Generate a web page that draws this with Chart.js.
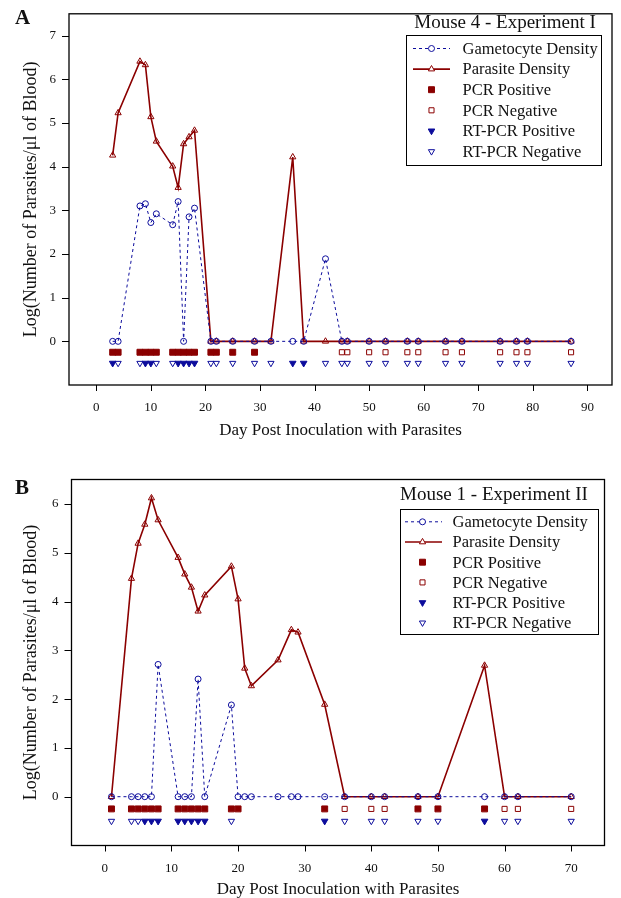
<!DOCTYPE html>
<html>
<head>
<meta charset="utf-8">
<script src="https://cdn.jsdelivr.net/npm/chart.js@4.4.0/dist/chart.umd.min.js"></script>
<style>
  html, body { margin: 0; padding: 0; background: #fff; }
  body { width: 621px; height: 898px; position: relative; overflow: hidden; }
  .panel { position: absolute; left: 0; width: 621px; height: 449px; }
  .tag { position: absolute; left: 15px; font: bold 21px 'Liberation Serif', serif; line-height: 21px; color: #111; }
</style>
</head>
<body>
<div class="panel" style="top:0"><canvas id="chartA" width="621" height="449"></canvas></div>
<div class="panel" style="top:449px"><canvas id="chartB" width="621" height="449"></canvas></div>
<div class="tag" style="top:7px">A</div>
<div class="tag" style="top:477px">B</div>
<script>
const FONT = "'Liberation Serif', 'Times New Roman', serif";
const RED = '#8b0000';
const BLUE = '#0c0c9c';

// rows where the PCR / RT-PCR results are plotted (log units)
const PCR_LEVEL = -0.25;
const RT_LEVEL = -0.5;

// Panel A - Mouse 4, Experiment I
const daysA = [3, 4, 8, 9, 10, 11, 14, 15, 16, 17, 18, 21, 22, 25, 29, 32, 36, 38, 42, 45, 46, 50, 53, 57, 59, 64, 67, 74, 77, 79, 87];
const gametoA = [0, 0, 3.10, 3.15, 2.72, 2.92, 2.67, 3.20, 0, 2.85, 3.05, 0, 0, 0, 0, 0, 0, 0, 1.89, 0, 0, 0, 0, 0, 0, 0, 0, 0, 0, 0, 0];
const parasiteA = [4.26, 5.23, 6.41, 6.33, 5.14, 4.58, 4.01, 3.52, 4.52, 4.68, 4.83, 0, 0, 0, 0, 0, 4.22, 0, 0, 0, 0, 0, 0, 0, 0, 0, 0, 0, 0, 0, 0];
const pcrPosA = [3, 4, 8, 9, 10, 11, 14, 15, 16, 17, 18, 21, 22, 25, 29];
const pcrNegA = [45, 46, 50, 53, 57, 59, 64, 67, 74, 77, 79, 87];
const rtPosA = [3, 9, 10, 15, 16, 17, 18, 36, 38];
const rtNegA = [4, 8, 11, 14, 21, 22, 25, 29, 32, 42, 45, 46, 50, 53, 57, 59, 64, 67, 74, 77, 79, 87];

// Panel B - Mouse 1, Experiment II
const daysB = [1, 4, 5, 6, 7, 8, 11, 12, 13, 14, 15, 19, 20, 21, 22, 26, 28, 29, 33, 36, 40, 42, 47, 50, 57, 60, 62, 70];
const gametoB = [0, 0, 0, 0, 0, 2.71, 0, 0, 0, 2.41, 0, 1.88, 0, 0, 0, 0, 0, 0, 0, 0, 0, 0, 0, 0, 0, 0, 0, 0];
const parasiteB = [0, 4.47, 5.19, 5.58, 6.12, 5.67, 4.90, 4.56, 4.29, 3.80, 4.13, 4.72, 4.05, 2.63, 2.27, 2.80, 3.42, 3.37, 1.89, 0, 0, 0, 0, 0, 2.69, 0, 0, 0];
const pcrPosB = [1, 4, 5, 6, 7, 8, 11, 12, 13, 14, 15, 19, 20, 33, 47, 50, 57];
const pcrNegB = [36, 40, 42, 60, 62, 70];
const rtPosB = [6, 7, 8, 11, 12, 13, 14, 15, 33, 57];
const rtNegB = [1, 4, 5, 19, 36, 40, 42, 47, 50, 60, 62, 70];

const xTicks = [0, 10, 20, 30, 40, 50, 60, 70, 80, 90];

const pts = (xs, ys) => xs.map((x, i) => ({ x: x, y: ys[i] }));
const row = (xs, level) => xs.map(x => ({ x: x, y: level }));

function buildDatasets(days, gameto, parasite, pcrPos, pcrNeg, rtPos, rtNeg) {
  return [
    { label: 'Gametocyte Density', data: pts(days, gameto), showLine: true,
      borderColor: BLUE, borderWidth: 1, borderDash: [3, 3],
      pointStyle: 'circle', pointRadius: 3, pointBorderWidth: 1,
      pointBorderColor: BLUE, pointBackgroundColor: 'rgba(0,0,0,0)' },
    { label: 'Parasite Density', data: pts(days, parasite), showLine: true,
      borderColor: RED, borderWidth: 1.6,
      pointStyle: 'triangle', pointRadius: 3.6, pointBorderWidth: 1,
      pointBorderColor: RED, pointBackgroundColor: 'rgba(0,0,0,0)' },
    { label: 'PCR Positive', data: row(pcrPos, PCR_LEVEL), showLine: false,
      pointStyle: 'rect', pointRadius: 4.2, pointBorderWidth: 1,
      pointBorderColor: RED, pointBackgroundColor: RED },
    { label: 'PCR Negative', data: row(pcrNeg, PCR_LEVEL), showLine: false,
      pointStyle: 'rect', pointRadius: 3.6, pointBorderWidth: 1,
      pointBorderColor: RED, pointBackgroundColor: 'rgba(0,0,0,0)' },
    { label: 'RT-PCR Positive', data: row(rtPos, RT_LEVEL), showLine: false,
      pointStyle: 'triangle', pointRotation: 180, pointRadius: 3.8, pointBorderWidth: 1,
      pointBorderColor: BLUE, pointBackgroundColor: BLUE },
    { label: 'RT-PCR Negative', data: row(rtNeg, RT_LEVEL), showLine: false,
      pointStyle: 'triangle', pointRotation: 180, pointRadius: 3.6, pointBorderWidth: 1,
      pointBorderColor: BLUE, pointBackgroundColor: 'rgba(0,0,0,0)' }
  ];
}

// frame round the plot area plus outward major/minor tick marks
const framePlugin = {
  id: 'frame',
  afterDatasetsDraw(chart) {
    const { ctx, chartArea: a, scales } = chart;
    ctx.save();
    ctx.strokeStyle = '#000';
    ctx.lineWidth = 1.3;
    ctx.strokeRect(a.left, a.top, a.right - a.left, a.bottom - a.top);
    ctx.lineWidth = 1;
    ctx.beginPath();
    scales.x.ticks.forEach(t => {
      if (t.value < 0) return;
      const px = Math.round(scales.x.getPixelForValue(t.value)) + 0.5;
      const len = t.value % 10 === 0 ? 6 : 3.5;
      ctx.moveTo(px, a.bottom);
      ctx.lineTo(px, a.bottom + len);
    });
    scales.y.ticks.forEach(t => {
      if (t.value < 0) return;
      const py = Math.round(scales.y.getPixelForValue(t.value)) + 0.5;
      const len = Number.isInteger(t.value) ? 7 : 4;
      ctx.moveTo(a.left - len, py);
      ctx.lineTo(a.left, py);
    });
    ctx.stroke();
    ctx.restore();
  }
};

// legend with a title above a framed list of series
const boxLegend = {
  id: 'boxLegend',
  afterDraw(chart, args, o) {
    const ctx = chart.ctx;
    ctx.save();
    ctx.fillStyle = '#111';
    ctx.textBaseline = 'middle';
    ctx.textAlign = 'center';
    ctx.font = o.titleSize + 'px ' + FONT;
    ctx.fillText(o.title, o.titleX, o.titleY);
    ctx.strokeStyle = '#000';
    ctx.lineWidth = 1;
    ctx.strokeRect(o.box[0] + 0.5, o.box[1] + 0.5, o.box[2], o.box[3]);
    ctx.textAlign = 'left';
    ctx.font = o.size + 'px ' + FONT;
    chart.data.datasets.forEach((ds, i) => {
      const y = o.rowY + i * o.rowGap;
      if (ds.showLine) {
        ctx.save();
        ctx.strokeStyle = ds.borderColor;
        ctx.lineWidth = ds.borderWidth;
        ctx.setLineDash(ds.borderDash || []);
        ctx.beginPath();
        ctx.moveTo(o.lineX[0], y);
        ctx.lineTo(o.lineX[1], y);
        ctx.stroke();
        ctx.restore();
      }
      ctx.save();
      ctx.fillStyle = ds.showLine ? '#fff' : ds.pointBackgroundColor;
      ctx.strokeStyle = ds.pointBorderColor;
      ctx.lineWidth = ds.pointBorderWidth;
      Chart.helpers.drawPoint(ctx, {
        pointStyle: ds.pointStyle, rotation: ds.pointRotation || 0,
        radius: ds.pointRadius, borderWidth: ds.pointBorderWidth
      }, o.symX, y);
      ctx.restore();
      ctx.fillStyle = '#111';
      ctx.fillText(ds.label, o.textX, y + 1);
    });
    ctx.restore();
  }
};

function makeChart(id, datasets, cfg) {
  return new Chart(document.getElementById(id), {
    type: 'scatter',
    data: { datasets: datasets },
    options: {
      responsive: false,
      animation: false,
      layout: { padding: { left: 0, top: cfg.top, right: cfg.right, bottom: 0 } },
      elements: { line: { tension: 0 } },
      plugins: {
        legend: { display: false },
        tooltip: { enabled: false },
        boxLegend: cfg.legend
      },
      scales: {
        x: {
          type: 'linear', min: -5, max: cfg.xMax,
          afterFit: s => { s.height = cfg.xHeight; },
          ticks: {
            stepSize: 5, includeBounds: false, autoSkip: false, maxRotation: 0,
            padding: 9, color: '#111', font: { family: FONT, size: 13 },
            callback: v => (xTicks.includes(v) ? String(v) : null)
          },
          grid: { drawOnChartArea: false, drawTicks: true, tickLength: 6, tickColor: 'rgba(0,0,0,0)' },
          border: { display: false },
          title: {
            display: true, text: 'Day Post Inoculation with Parasites', color: '#111',
            font: { family: FONT, size: 17, lineHeight: 1 },
            padding: { top: 0, bottom: cfg.xTitlePad }
          }
        },
        y: {
          type: 'linear', min: -1, max: cfg.yMax,
          afterFit: s => { s.width = cfg.yWidth; },
          ticks: {
            stepSize: 0.5, includeBounds: false, padding: 6, color: '#111',
            font: { family: FONT, size: 13 },
            callback: v => (v >= 0 && Number.isInteger(v) ? String(v) : null)
          },
          grid: { drawOnChartArea: false, drawTicks: true, tickLength: 7, tickColor: 'rgba(0,0,0,0)' },
          border: { display: false },
          title: {
            display: true, text: 'Log(Number of Parasites/\u03bcl of Blood)', color: '#111',
            font: { family: FONT, size: 18, lineHeight: 1 },
            padding: { top: cfg.yTitlePad, bottom: 0 }
          }
        }
      }
    },
    plugins: [framePlugin, boxLegend]
  });
}

makeChart('chartA', buildDatasets(daysA, gametoA, parasiteA, pcrPosA, pcrNegA, rtPosA, rtNegA), {
  top: 9, right: 9, xMax: 94.5, yMax: 7.5, yWidth: 69, xHeight: 64,
  xTitlePad: 10, yTitlePad: 22,
  legend: {
    title: 'Mouse 4 - Experiment I', titleSize: 19, titleX: 505, titleY: 23,
    box: [406, 35, 195, 130], size: 16.5, rowY: 48.5, rowGap: 20.6,
    symX: 431.5, lineX: [413, 450], textX: 462.5
  }
});

makeChart('chartB', buildDatasets(daysB, gametoB, parasiteB, pcrPosB, pcrNegB, rtPosB, rtNegB), {
  top: 30.5, right: 16.5, xMax: 75, yMax: 6.5, yWidth: 71.5, xHeight: 52.5,
  xTitlePad: 0, yTitlePad: 22,
  legend: {
    title: 'Mouse 1 - Experiment II', titleSize: 19, titleX: 494, titleY: 46,
    box: [400, 60, 198, 125], size: 16.5, rowY: 72.8, rowGap: 20.2,
    symX: 422.5, lineX: [405, 442], textX: 452.5
  }
});
</script>
</body>
</html>
